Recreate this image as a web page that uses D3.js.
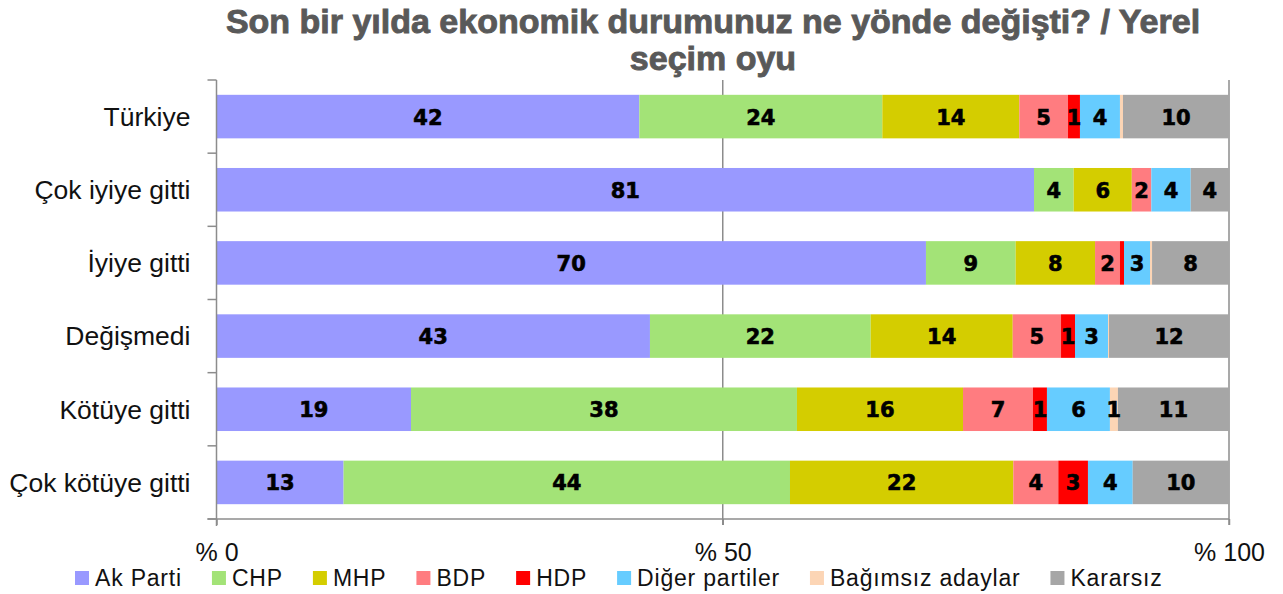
<!DOCTYPE html>
<html><head><meta charset="utf-8">
<script src="https://cdn.jsdelivr.net/npm/d3@7"></script>
<style>html,body{margin:0;padding:0;background:#fff;} svg{display:block;}</style>
</head><body>
<svg id="chart" width="1283" height="594"></svg>
<script>
const titleLines = ["Son bir yılda ekonomik durumunuz ne yönde değişti? / Yerel", "seçim oyu"];
const categories = ["Türkiye","Çok iyiye gitti","İyiye gitti","Değişmedi","Kötüye gitti","Çok kötüye gitti"];
const seriesNames = ["Ak Parti","CHP","MHP","BDP","HDP","Diğer partiler","Bağımsız adaylar","Kararsız"];
const seriesColors = ["#9999ff","#a3e377","#d4cd00","#ff7c80","#ff0000","#66ccff","#fcd5b5","#a6a6a6"];
const akParti  = [41.76, 80.74, 70.07, 42.81, 19.21, 12.55];
const chp      = [24.00,  3.92,  8.86, 21.80, 38.12, 44.09];
const mhp      = [13.53,  5.74,  7.84, 14.03, 16.40, 22.06];
const bdp      = [ 4.81,  1.93,  2.46,  4.77,  6.91,  4.44];
const hdp      = [ 1.18,  0.00,  0.40,  1.38,  1.38,  2.93];
const diger    = [ 3.95,  3.89,  2.57,  3.26,  6.22,  4.42];
const bagimsiz = [ 0.30,  0.00,  0.20,  0.10,  0.79,  0.00];
const kararsiz = [10.47,  3.78,  7.60, 11.85, 10.96,  9.51];
const tickValues = [0, 50, 100];
const tickLabels = ["% 0", "% 50", "% 100"];

(function () {
const seriesValues = [akParti, chp, mhp, bdp, hdp, diger, bagimsiz, kararsiz];
const rows = categories.map((c, i) => {
  const o = {category: c};
  seriesNames.forEach((s, j) => o[s] = seriesValues[j][i]);
  return o;
});
const stacked = d3.stack().keys(seriesNames)(rows);

const svg = d3.select("#chart");
const pLeft = 216.5, pRight = 1229, pTop = 80, pBottom = 519;
const x = d3.scaleLinear().domain([0, 100]).range([pLeft, pRight]);
const y = d3.scaleBand().domain(categories).range([pTop, pBottom]).paddingInner(0.405).paddingOuter(0.2025);
const color = d3.scaleOrdinal().domain(seriesNames).range(seriesColors);
const axisColor = "#8c8c8c";

// Title
const title = svg.append("text").attr("text-anchor", "middle")
  .attr("font-family", "'Liberation Sans', sans-serif")
  .attr("font-weight", "bold").attr("font-size", 34).attr("fill", "#595959")
  .attr("stroke", "#595959").attr("stroke-width", 0.9);
titleLines.forEach((t, i) => title.append("tspan").attr("x", 713).attr("y", 33 + i * 37).text(t));

// Gridlines at 50 and 100
svg.append("g").selectAll("line").data(tickValues.filter(v => v > 0)).join("line")
  .attr("x1", d => x(d)).attr("x2", d => x(d)).attr("y1", pTop).attr("y2", pBottom + 6)
  .attr("stroke", axisColor).attr("stroke-width", 1.5);

// Bars
const g = svg.append("g");
stacked.forEach(layer => {
  g.append("g").attr("fill", color(layer.key)).selectAll("rect").data(layer).join("rect")
    .attr("x", d => x(d[0])).attr("width", d => x(d[1]) - x(d[0]))
    .attr("y", d => y(d.data.category)).attr("height", y.bandwidth());
});

// Labels
const lg = svg.append("g").attr("font-family", "'DejaVu Sans', sans-serif").attr("font-weight", "bold")
  .attr("font-size", 21).attr("fill", "#000").attr("stroke", "#000").attr("stroke-width", 0.6)
  .attr("text-anchor", "middle");
stacked.forEach(layer => {
  lg.append("g").selectAll("text").data(layer.filter(d => Math.round(d[1] - d[0]) >= 1)).join("text")
    .attr("x", d => x((d[0] + d[1]) / 2))
    .attr("y", d => y(d.data.category) + y.bandwidth() / 2 + 8)
    .text(d => Math.round(d[1] - d[0]));
});

// Left axis
const yAxis = d3.axisLeft(y).tickSize(0).tickPadding(26);
const ya = svg.append("g").attr("transform", `translate(${pLeft},0)`).call(yAxis);
ya.select(".domain").remove();
ya.selectAll("text").attr("font-family", "'Liberation Sans', sans-serif").attr("font-size", 26.5).attr("fill", "#111").attr("dy", "0.35em");
const boundaries = d3.range(categories.length + 1).map(i => pTop + i * y.step());
svg.append("line").attr("x1", pLeft).attr("x2", pLeft).attr("y1", pTop).attr("y2", pBottom + 7)
  .attr("stroke", axisColor).attr("stroke-width", 1.5);
svg.append("g").selectAll("line").data(boundaries).join("line")
  .attr("x1", pLeft - 9).attr("x2", pLeft).attr("y1", d => d).attr("y2", d => d)
  .attr("stroke", axisColor).attr("stroke-width", 1.5);

// Bottom axis
const xAxis = d3.axisBottom(x).tickValues(tickValues).tickFormat((d, i) => tickLabels[i]).tickSize(6).tickSizeOuter(0).tickPadding(18);
const xa = svg.append("g").attr("transform", `translate(0,${pBottom})`).call(xAxis);
xa.select(".domain").attr("d", `M${pLeft - 9},0H${pRight}`).attr("stroke", axisColor).attr("stroke-width", 1.5);
xa.selectAll(".tick line").attr("stroke", axisColor).attr("stroke-width", 1.5);
xa.selectAll("text").attr("font-family", "'Liberation Sans', sans-serif").attr("font-size", 25).attr("fill", "#111");

// Legend
const legend = svg.append("g").attr("font-family", "'Liberation Sans', sans-serif").attr("font-size", 23)
  .attr("letter-spacing", 0.8).attr("fill", "#111");
let lx = 75;
seriesNames.forEach((s, i) => {
  legend.append("rect").attr("x", lx).attr("y", 571).attr("width", 14).attr("height", 14).attr("fill", seriesColors[i]);
  const t = legend.append("text").attr("x", lx + 20).attr("y", 586).text(s);
  lx += 20 + t.node().getComputedTextLength() + 30;
});
})();
</script>
</body></html>
